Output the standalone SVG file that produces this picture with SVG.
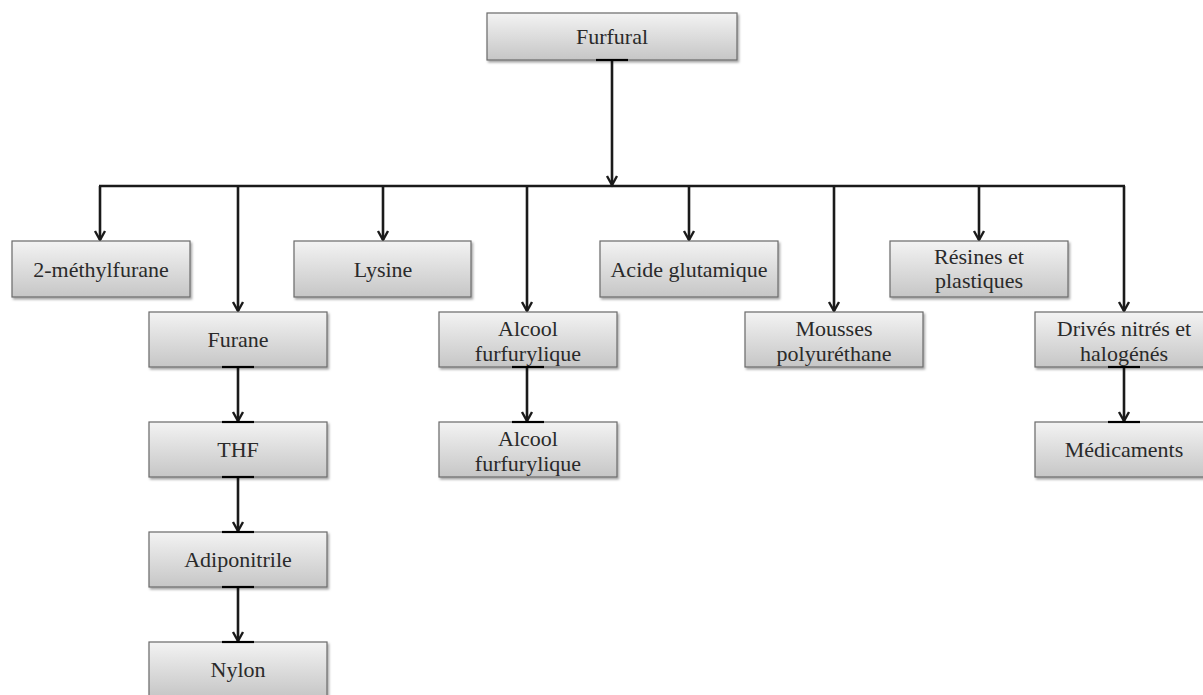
<svg xmlns="http://www.w3.org/2000/svg" width="1203" height="695" viewBox="0 0 1203 695">
<defs>
<linearGradient id="g" x1="0" y1="0" x2="0" y2="1">
<stop offset="0" stop-color="#f3f3f3"/>
<stop offset="1" stop-color="#c6c6c6"/>
</linearGradient>
<filter id="sh" x="-5%" y="-10%" width="115%" height="130%">
<feDropShadow dx="1.5" dy="2" stdDeviation="1.2" flood-color="#000" flood-opacity="0.35"/>
</filter>
<marker id="ah" viewBox="0 0 12 12" refX="11" refY="6" markerWidth="12" markerHeight="12" markerUnits="userSpaceOnUse" orient="auto" overflow="visible">
<path d="M2,1 L11,6 L2,11" fill="none" stroke="#1a1a1a" stroke-width="2.4"/>
</marker>
</defs>
<style>
.box{fill:url(#g);stroke:#6a6a6a;stroke-width:1.2;filter:url(#sh)}
.t{font-family:"Liberation Serif","Times New Roman",serif;font-size:22px;fill:#2a2a2a;text-anchor:middle}
.c{fill:none;stroke:#1a1a1a;stroke-width:2.6}
.a{fill:none;stroke:#1a1a1a;stroke-width:2.6;marker-end:url(#ah)}
.d{stroke:#000;stroke-width:2.2}
</style>
<g id="connectors">
<line class="a" x1="612" y1="60" x2="612" y2="185"/>
<line class="c" x1="99" y1="186" x2="1125" y2="186"/>
<line class="a" x1="100" y1="186" x2="100" y2="240"/>
<line class="a" x1="238" y1="186" x2="238" y2="311"/>
<line class="a" x1="383" y1="186" x2="383" y2="240"/>
<line class="a" x1="527" y1="186" x2="527" y2="311"/>
<line class="a" x1="689" y1="186" x2="689" y2="240"/>
<line class="a" x1="834" y1="186" x2="834" y2="311"/>
<line class="a" x1="979" y1="186" x2="979" y2="240"/>
<line class="a" x1="1124" y1="186" x2="1124" y2="311"/>
<line class="a" x1="238" y1="367" x2="238" y2="421"/>
<line class="a" x1="238" y1="477" x2="238" y2="531"/>
<line class="a" x1="238" y1="587" x2="238" y2="641"/>
<line class="a" x1="527" y1="367" x2="527" y2="421"/>
<line class="a" x1="1124" y1="367" x2="1124" y2="421"/>
</g>
<g id="n-furfural"><rect class="box" x="487" y="13" width="250" height="47"/><text class="t" x="612" y="44">Furfural</text></g>
<g id="n-methylfurane"><rect class="box" x="12" y="241" width="178" height="56"/><text class="t" x="101" y="276.5">2-méthylfurane</text></g>
<g id="n-lysine"><rect class="box" x="294" y="241" width="177" height="56"/><text class="t" x="383" y="276.5">Lysine</text></g>
<g id="n-acide"><rect class="box" x="600" y="241" width="178" height="56"/><text class="t" x="689" y="276.5">Acide glutamique</text></g>
<g id="n-resines"><rect class="box" x="890" y="241" width="178" height="56"/><text class="t" x="979" y="264">Résines et</text><text class="t" x="979" y="288">plastiques</text></g>
<g id="n-furane"><rect class="box" x="149" y="312" width="178" height="55"/><text class="t" x="238" y="347">Furane</text></g>
<g id="n-alcool1"><rect class="box" x="439" y="312" width="178" height="55"/><text class="t" x="528" y="335.5">Alcool</text><text class="t" x="528" y="360.5">furfurylique</text></g>
<g id="n-mousses"><rect class="box" x="745" y="312" width="178" height="55"/><text class="t" x="834" y="335.5">Mousses</text><text class="t" x="834" y="360.5">polyuréthane</text></g>
<g id="n-drives"><rect class="box" x="1035" y="312" width="178" height="55"/><text class="t" x="1124" y="335.5">Drivés nitrés et</text><text class="t" x="1124" y="360.5">halogénés</text></g>
<g id="n-thf"><rect class="box" x="149" y="422" width="178" height="55"/><text class="t" x="238" y="457">THF</text></g>
<g id="n-alcool2"><rect class="box" x="439" y="422" width="178" height="55"/><text class="t" x="528" y="445.5">Alcool</text><text class="t" x="528" y="470.5">furfurylique</text></g>
<g id="n-medicaments"><rect class="box" x="1035" y="422" width="178" height="55"/><text class="t" x="1124" y="457">Médicaments</text></g>
<g id="n-adiponitrile"><rect class="box" x="149" y="532" width="178" height="55"/><text class="t" x="238" y="567">Adiponitrile</text></g>
<g id="n-nylon"><rect class="box" x="149" y="642" width="178" height="55"/><text class="t" x="238" y="677">Nylon</text></g>
<g id="connector-ends">
<line class="d" x1="596" y1="60" x2="628" y2="60"/>
<line class="d" x1="222" y1="367" x2="254" y2="367"/>
<line class="d" x1="222" y1="422" x2="254" y2="422"/>
<line class="d" x1="222" y1="477" x2="254" y2="477"/>
<line class="d" x1="222" y1="532" x2="254" y2="532"/>
<line class="d" x1="222" y1="587" x2="254" y2="587"/>
<line class="d" x1="222" y1="642" x2="254" y2="642"/>
<line class="d" x1="512" y1="367" x2="544" y2="367"/>
<line class="d" x1="512" y1="422" x2="544" y2="422"/>
<line class="d" x1="1108" y1="367" x2="1140" y2="367"/>
<line class="d" x1="1108" y1="422" x2="1140" y2="422"/>
</g>
</svg>
